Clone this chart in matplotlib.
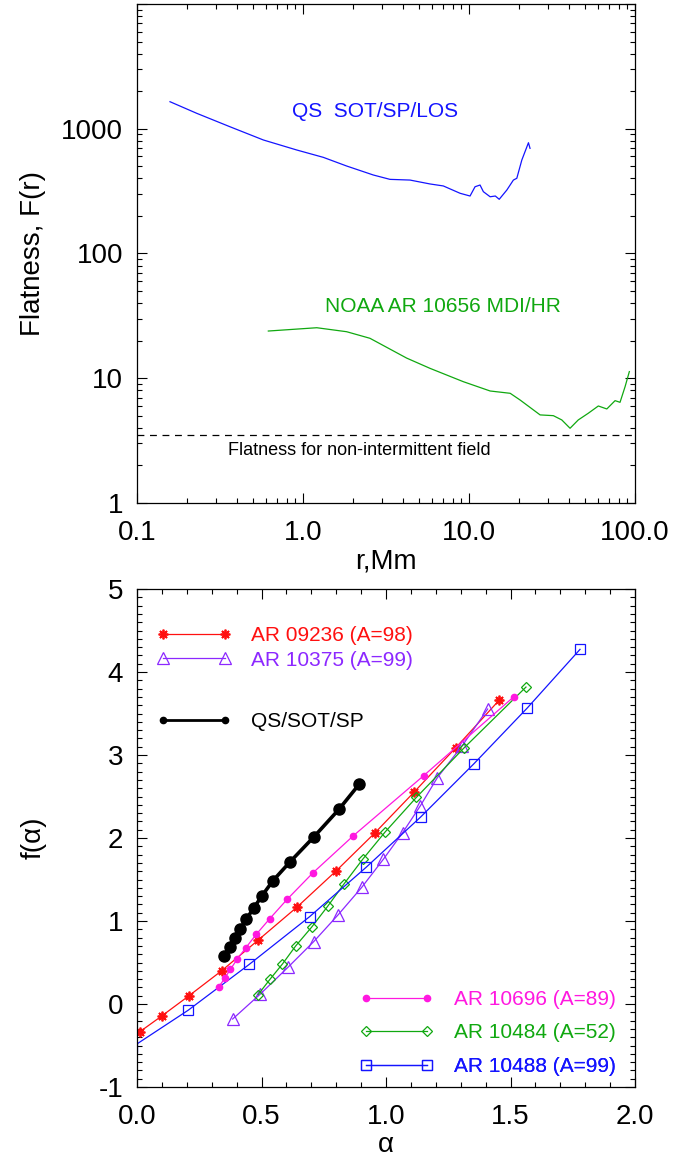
import matplotlib
matplotlib.use('Agg')
import matplotlib.pyplot as plt
from matplotlib.lines import Line2D
from matplotlib.ticker import LogLocator, MultipleLocator, NullFormatter

plt.rcParams['font.family'] = ['Liberation Sans', 'DejaVu Sans']

# top panel: flatness vs scale
qs_r = [0.158, 0.229, 0.363, 0.577, 0.916, 1.325, 1.83, 2.65, 3.34, 4.41, 5.82, 7.0,
        8.83, 10.14, 10.87, 11.65, 12.2, 13.4, 14.4, 15.2, 16.9, 18.5, 19.4, 20.8, 22.8, 23.3]
qs_f = [1648, 1330, 1038, 813, 676, 590, 503, 426, 393, 388, 361, 348,
        304, 289, 343, 354, 313, 285, 289, 272, 323, 388, 401, 562, 773, 697]
ar_r = [0.618, 1.21, 1.83, 2.53, 4.21, 5.82, 9.24, 13.4, 17.7, 20.3, 26.8, 32.2,
        36.2, 40.6, 45.5, 52.3, 60.1, 67.6, 75.8, 81.2, 87.1, 92.4]
ar_f = [23.9, 25.4, 23.6, 20.9, 14.5, 12.0, 9.38, 7.90, 7.57, 6.69, 5.08, 5.01,
        4.63, 3.97, 4.63, 5.24, 5.99, 5.67, 6.61, 6.41, 8.56, 11.3]
flat_gauss = 3.5

# bottom panel: multifractal spectra
qs_a = [0.349, 0.372, 0.392, 0.414, 0.439, 0.469, 0.502, 0.546, 0.614, 0.711, 0.811, 0.892]
qs_fa = [0.582, 0.690, 0.799, 0.904, 1.024, 1.157, 1.305, 1.486, 1.711, 2.016, 2.346, 2.647]
a10696 = [0.329, 0.352, 0.375, 0.402, 0.437, 0.479, 0.533, 0.604, 0.707, 0.869, 1.151, 1.513]
f10696 = [0.208, 0.310, 0.418, 0.539, 0.678, 0.840, 1.028, 1.265, 1.582, 2.028, 2.751, 3.702]
a09236 = [0.01, 0.099, 0.209, 0.340, 0.487, 0.643, 0.799, 0.956, 1.112, 1.280, 1.455]
f09236 = [-0.337, -0.145, 0.100, 0.401, 0.771, 1.169, 1.602, 2.064, 2.551, 3.088, 3.663]
a10484 = [0.486, 0.534, 0.584, 0.637, 0.701, 0.765, 0.831, 0.906, 0.997, 1.122, 1.314, 1.562]
f10484 = [0.112, 0.298, 0.482, 0.699, 0.925, 1.175, 1.446, 1.743, 2.075, 2.490, 3.088, 3.819]
a10375 = [0.384, 0.494, 0.606, 0.710, 0.808, 0.902, 0.989, 1.067, 1.138, 1.206, 1.306, 1.408]
f10375 = [-0.181, 0.117, 0.442, 0.753, 1.076, 1.404, 1.743, 2.066, 2.389, 2.727, 3.112, 3.554]
a10488 = [-0.02, 0.205, 0.451, 0.693, 0.920, 1.139, 1.352, 1.567, 1.779]
f10488 = [-0.52, -0.076, 0.478, 1.052, 1.647, 2.253, 2.892, 3.566, 4.273]

blue = '#1414ff'
green = '#10a810'
red = '#ff1010'
magenta = '#ff18e0'
purple = '#8c28ff'

fig = plt.figure(figsize=(6.73, 11.57), dpi=100)


def style_axes(ax):
    ax.tick_params(which='both', direction='in', top=True, right=True, width=0.8)
    ax.tick_params(which='major', length=7, labelsize=20, pad=10)
    ax.tick_params(which='minor', length=3.5)
    ax.tick_params(axis='x', pad=12)
    for s in ax.spines.values():
        s.set_linewidth(0.9)


ax1 = fig.add_axes([0.2036, 0.5653, 0.740, 0.4312])
ax1.set_xscale('log')
ax1.set_yscale('log')
ax1.plot(qs_r, qs_f, color=blue, lw=0.9)
ax1.plot(ar_r, ar_f, color=green, lw=0.9)
ax1.axhline(flat_gauss, color='k', lw=0.9, ls=(0, (5.5, 4.5)))
ax1.set_xlim(0.1, 100)
ax1.set_ylim(1, 1e4)
ax1.set_xticks([0.1, 1, 10, 100], ['0.1', '1.0', '10.0', '100.0'])
ax1.set_yticks([1, 10, 100, 1000, 10000], ['1', '10', '100', '1000', ''])
ax1.xaxis.set_minor_locator(LogLocator(subs=range(2, 10)))
ax1.yaxis.set_minor_locator(LogLocator(subs=range(2, 10)))
ax1.xaxis.set_minor_formatter(NullFormatter())
ax1.yaxis.set_minor_formatter(NullFormatter())
style_axes(ax1)
ax1.set_xlabel('r,Mm', fontsize=20, labelpad=2)
ax1.set_ylabel('Flatness, F(r)', fontsize=20)
ax1.yaxis.set_label_coords(-0.182, 0.5)
ax1.text(0.311, 0.784, 'QS  SOT/SP/LOS', color=blue, fontsize=15,
         transform=ax1.transAxes, va='center')
ax1.text(0.378, 0.393, 'NOAA AR 10656 MDI/HR', color=green, fontsize=15,
         transform=ax1.transAxes, va='center')
ax1.text(0.183, 0.106, 'Flatness for non-intermittent field', color='k', fontsize=13,
         transform=ax1.transAxes, va='center')

ax2 = fig.add_axes([0.2036, 0.0605, 0.740, 0.4304])
ax2.plot(a09236, f09236, color=red, lw=0.9, marker=(8, 2, 0), ms=7, mew=1.3)
ax2.plot(a10375, f10375, color=purple, lw=0.9, marker='^', ms=8, mfc='none', mew=0.9)
ax2.plot(a10484, f10484, color=green, lw=0.9, marker='D', ms=5, mfc='none', mew=0.9)
ax2.plot(a10488, f10488, color=blue, lw=0.9, marker='s', ms=7.5, mfc='none', mew=0.9)
ax2.plot(a10696, f10696, color=magenta, lw=0.9, marker='o', ms=4.5)
ax2.plot(qs_a, qs_fa, color='k', lw=2.6, marker='o', ms=8)
ax2.set_xlim(0, 2)
ax2.set_ylim(-1, 5)
ax2.set_xticks([0, 0.5, 1, 1.5, 2], ['0.0', '0.5', '1.0', '1.5', '2.0'])
ax2.set_yticks(range(-1, 6), ['-1', '0', '1', '2', '3', '4', '5'])
ax2.xaxis.set_minor_locator(MultipleLocator(0.1))
ax2.yaxis.set_minor_locator(MultipleLocator(0.1))
style_axes(ax2)
ax2.set_xlabel('α', fontsize=20, labelpad=2)
ax2.set_ylabel('f(α)', fontsize=20)
ax2.yaxis.set_label_coords(-0.182, 0.5)


def add_key(ax, handle, label, color, x, y, textpad):
    leg = ax.legend([handle], [label], loc='center left', bbox_to_anchor=(x, y),
                    frameon=False, borderpad=0, borderaxespad=0, handlelength=3.55,
                    handletextpad=textpad, fontsize=15, numpoints=2)
    leg.get_texts()[0].set_color(color)
    ax.add_artist(leg)


add_key(ax2, Line2D([], [], color=red, lw=0.9, marker=(8, 2, 0), ms=7, mew=1.3),
        'AR 09236 (A=98)', red, 0.0397, 0.906, 0.96)
add_key(ax2, Line2D([], [], color=purple, lw=0.9, marker='^', ms=8, mfc='none', mew=0.9),
        'AR 10375 (A=99)', purple, 0.0397, 0.857, 0.96)
add_key(ax2, Line2D([], [], color='k', lw=2, marker='o', ms=4.5),
        'QS/SOT/SP', 'k', 0.0397, 0.733, 0.96)
add_key(ax2, Line2D([], [], color=magenta, lw=0.9, marker='o', ms=4.5),
        'AR 10696 (A=89)', magenta, 0.447, 0.176, 1.0)
add_key(ax2, Line2D([], [], color=green, lw=0.9, marker='D', ms=5, mfc='none', mew=0.9),
        'AR 10484 (A=52)', green, 0.447, 0.109, 1.0)
add_key(ax2, Line2D([], [], color=blue, lw=0.9, marker='s', ms=7.5, mfc='none', mew=0.9),
        'AR 10488 (A=99)', blue, 0.447, 0.041, 1.0)

fig.savefig('out.png', dpi=100)
